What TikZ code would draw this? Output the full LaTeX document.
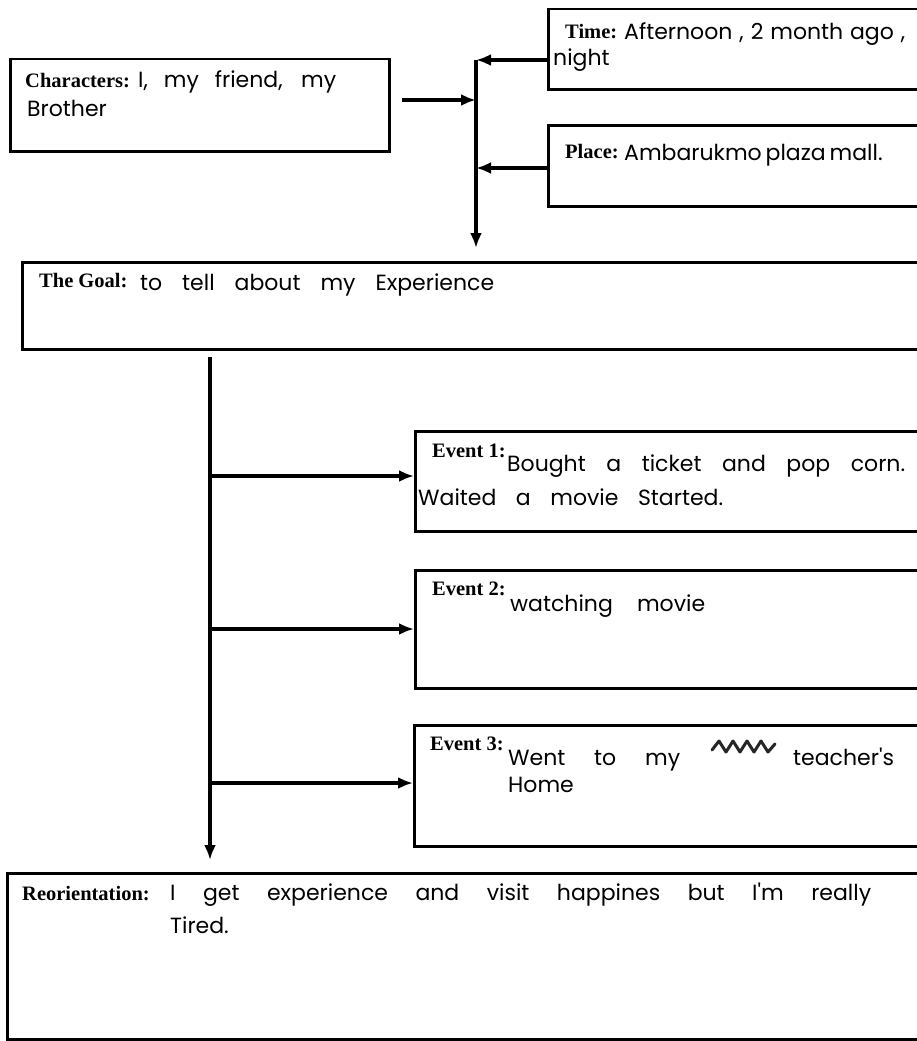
\documentclass[tikz,border=0pt]{standalone}
\usepackage{fontspec}
\setmainfont{Liberation Serif}
\newfontfamily\hand{Poppins}
\usetikzlibrary{arrows.meta}
\begin{document}
\begin{tikzpicture}[x=1pt,y=-1pt,
  panel/.style={draw=black, line width=2.5pt, fill=white, inner sep=0pt, anchor=north west},
  tag/.style={anchor=base west, inner sep=0pt, font=\fontsize{20.5}{20.5}\selectfont\bfseries},
  note/.style={anchor=base west, inner sep=0pt, font=\fontsize{22}{22}\selectfont\hand},
  link/.style={line width=3.2pt, -{Latex[length=15pt,width=12pt]}},
  stroke/.style={line width=3.2pt}]
% page
\clip (0,0) rectangle (917,1041);
\fill[white] (0,0) rectangle (917,1041);

% boxes
\node[panel, minimum width=379pt, minimum height=92pt]  (chars) at (9,58) {};
\node[panel, minimum width=400pt, minimum height=80pt]  (time)  at (547,8) {};
\node[panel, minimum width=400pt, minimum height=81pt]  (place) at (547,124) {};
\node[panel, minimum width=920pt, minimum height=87pt]  (goal)  at (21,261) {};
\node[panel, minimum width=520pt, minimum height=100pt] (ev1)   at (414,430) {};
\node[panel, minimum width=520pt, minimum height=118pt] (ev2)   at (414,569) {};
\node[panel, minimum width=520pt, minimum height=121pt] (ev3)   at (413,724) {};
\node[panel, minimum width=930pt, minimum height=166pt] (reor)  at (6,872) {};

% orientation junction
\coordinate (jt) at (476,60);
\coordinate (jc) at (476,100);
\coordinate (jp) at (476,168);
\coordinate (cs) at (402,100);
\coordinate (jg) at (476,248);
\draw[stroke] (jt) -- (jp);
\draw[link] (jp) -- (jg);
\draw[link] (cs) -- (jc);
\draw[link] (time.west |- jt) -- (jt);
\draw[link] (place.west |- jp) -- (jp);

% complication trunk
\coordinate (ts) at (210,357);
\coordinate (te) at (210,860);
\coordinate (e1) at (210,476);
\coordinate (e2) at (210,629);
\coordinate (e3) at (210,783);
\draw[link] (ts) -- (te);
\draw[link] (e1) -- (ev1.west |- e1);
\draw[link] (e2) -- (ev2.west |- e2);
\draw[link] (e3) -- (ev3.west |- e3);

% texts
\node[tag]  (tt) at (565,39) {Time:};
\node[note] (tn) at (624,40) {\makebox[281pt][s]{Afternoon , 2 month ago ,}};
\node[note] (tn2) at (553,66) {night};

\node[tag]  (pt) at (565,158) {Place:};
\node[note] (pn) at (624,160) {\makebox[255pt][s]{Ambarukmo plaza mall.}};

\node[tag]  (ct) at (25,87) {Characters:};
\node[note] (cn) at (138,88) {\makebox[198pt][s]{I, my friend, my}};
\node[note] (cn2) at (27,116) {Brother};

\node[tag]  (gt) at (39,287) {The Goal:};
\node[note] (gn) at (140,290) {\makebox[354pt][s]{to tell about my Experience}};

\node[tag]  (at1) at (432,457) {Event 1:};
\node[note] (an1) at (507,471) {\makebox[398pt][s]{Bought a ticket and pop corn.}};
\node[note] (an1b) at (418,505) {\makebox[305pt][s]{Waited a movie Started.}};

\node[tag]  (at2) at (432,595) {Event 2:};
\node[note] (an2) at (510,611) {\makebox[195pt][s]{watching movie}};

\node[tag]  (at3) at (430,750) {Event 3:};
\node[note] (an3) at (508,765) {\makebox[172pt][s]{Went to my}};
\draw[line width=3pt, black!85, line join=round, line cap=round]
  (712,750) -- (719,741) -- (726,752) -- (733,741) -- (740,752) -- (747,741)
  -- (754,752) -- (761,741) -- (768,752) -- (775,744);
\node[note] (an3b) at (793,765) {teacher's};
\node[note] (an3c) at (508,792) {Home};

\node[tag]  (rt) at (22,900) {Reorientation:};
\node[note] (rn) at (170,900) {\makebox[701pt][s]{I get experience and visit happines but I'm really}};
\node[note] (rn2) at (170,933) {Tired.};
\end{tikzpicture}
\end{document}
